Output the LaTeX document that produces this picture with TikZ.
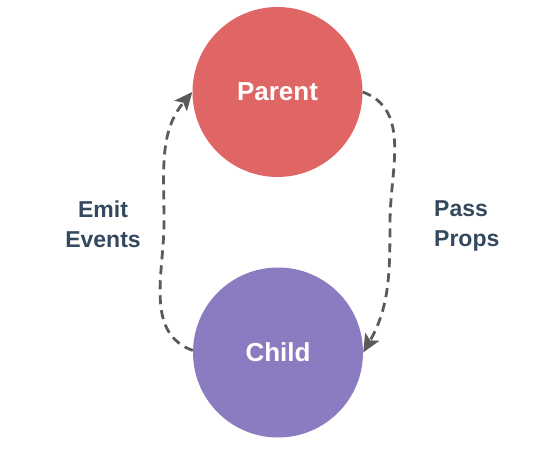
\documentclass[tikz,border=0pt]{standalone}
\usepackage{fontspec}
\setmainfont{Liberation Sans}
\usetikzlibrary{arrows.meta}
\definecolor{parentred}{HTML}{E06666}
\definecolor{childpurple}{HTML}{8B7BC0}
\definecolor{labelblue}{HTML}{35495E}
\definecolor{arrowgray}{HTML}{5A5A5A}
\tikzset{
  bubble/.style={circle, minimum size=170pt, inner sep=0pt, text=white,
    font=\fontsize{26}{30}\selectfont\bfseries},
  flowlabel/.style={text=labelblue, font=\fontsize{23}{30}\selectfont\bfseries, inner sep=0pt},
  flow/.style={draw=arrowgray, line width=2.8pt, dash pattern=on 9pt off 6pt,
    -{Stealth[length=18pt,width=16pt,inset=4pt]}}
}
\begin{document}
\begin{tikzpicture}[x=1pt,y=1pt]
\useasboundingbox (0,0) rectangle (550,450);
\node[bubble, fill=parentred] (parent) at (277.5,358) {Parent};
\node[bubble, fill=childpurple] (child) at (278,97.5) {Child};
\node[flowlabel, align=center, anchor=base] (emit) at (103,202) {Emit\\Events};
\node[flowlabel, align=left, anchor=base west] (pass) at (434,203) {Pass\\Props};
\coordinate (lmid) at (164,228);
\coordinate (rmid) at (390,228);
\draw[flow] (child.west) ++(0,2) to[out=160, in=-90] (lmid) to[out=90, in=-130] (parent.west);
\draw[flow] (parent.east) to[out=-20, in=90] (rmid) to[out=-90, in=60] (child.east);
\end{tikzpicture}
\end{document}
